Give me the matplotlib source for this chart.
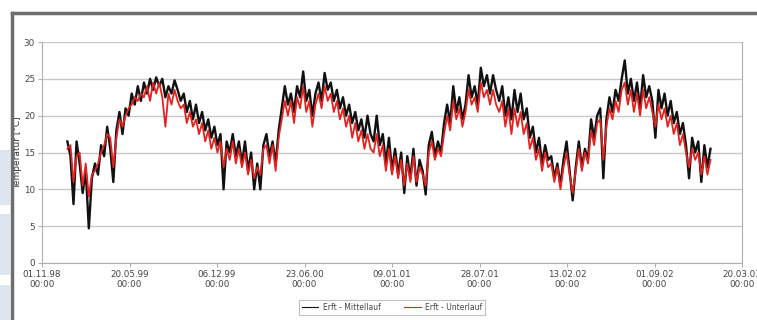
import matplotlib
matplotlib.use("Agg")
import matplotlib.pyplot as plt
import matplotlib.dates as mdates
from matplotlib.lines import Line2D
from matplotlib.patches import Rectangle
import numpy as np
import pandas as pd

# Wochenwerte (Start Ende Dez. 1998)
start = "1998-12-29"

mittellauf = [16.5, 14.5, 8.0, 16.5, 13.5, 9.5, 12.5, 4.7, 11.5, 13.5,
              12.0, 16.0, 14.5, 18.5, 15.5, 11.0, 18.0, 20.5, 17.5, 21.0,
              20.0, 23.0, 21.5, 24.0, 22.0, 24.5, 23.0, 25.0, 23.5, 25.2,
              24.0, 25.0, 22.5, 24.0, 23.0, 24.8, 23.5, 22.0, 23.0, 20.5,
              22.0, 19.5, 21.5, 19.0, 20.5, 18.0, 19.5, 17.0, 18.5, 16.0,
              17.5, 10.0, 16.5, 15.0, 17.5, 14.5, 16.5, 13.5, 16.5, 12.5,
              15.0, 10.0, 13.5, 10.0, 16.0, 17.5, 14.5, 16.5, 13.5, 18.0,
              21.0, 24.0, 21.5, 23.0, 20.5, 24.0, 22.5, 26.0, 22.0, 23.5,
              20.0, 23.0, 24.5, 22.0, 25.8, 23.5, 24.5, 22.0, 23.5, 21.0,
              22.5, 20.0, 21.5, 19.0, 20.5, 18.0, 19.5, 17.0, 20.0, 17.5,
              16.5, 20.0, 16.0, 17.5, 13.5, 17.0, 12.5, 15.5, 12.0, 15.0,
              9.5, 14.5, 11.5, 15.5, 10.5, 14.0, 12.5, 9.3, 16.0, 17.8,
              14.5, 16.5, 15.0, 19.0, 21.5, 19.0, 24.0, 20.5, 22.5, 19.5,
              21.5, 25.5, 22.5, 24.0, 21.5, 26.5, 24.0, 25.5, 23.0, 25.5,
              23.5, 22.0, 24.0, 20.0, 22.5, 19.5, 23.5, 20.5, 23.0, 19.5,
              21.0, 17.0, 18.5, 15.0, 17.0, 13.5, 16.0, 14.0, 14.5, 11.5,
              13.5, 10.5, 14.0, 16.5, 12.5, 8.5, 13.0, 16.5, 13.0, 15.5,
              14.0, 19.5, 17.0, 20.0, 21.0, 11.5, 19.5, 22.5, 20.5, 23.5,
              22.0, 25.0, 27.5, 23.0, 25.0, 22.0, 24.5, 21.0, 25.5, 22.5,
              24.0, 22.0, 17.0, 23.5, 21.0, 23.0, 20.0, 22.0, 19.0, 20.5,
              17.5, 19.0, 16.0, 11.5, 17.0, 15.0, 16.5, 11.0, 16.0, 13.0,
              15.5]

unterlauf = [15.5, 16.0, 11.0, 14.5, 15.0, 10.5, 13.5, 9.0, 12.0, 12.5,
             13.5, 15.0, 16.0, 17.5, 17.0, 13.0, 17.0, 19.5, 18.5, 20.0,
             21.0, 21.5, 22.5, 22.0, 23.0, 22.5, 24.0, 22.0, 24.5, 23.0,
             24.5, 22.5, 18.5, 23.0, 21.5, 23.5, 22.0, 21.0, 21.5, 19.0,
             20.5, 18.5, 19.5, 17.5, 19.0, 16.5, 18.0, 15.5, 17.0, 15.0,
             16.5, 13.0, 15.5, 14.0, 16.5, 13.5, 15.5, 13.0, 15.0, 12.0,
             14.0, 11.5, 13.0, 12.0, 15.5, 16.0, 13.5, 16.0, 12.5, 17.0,
             19.5, 22.0, 20.0, 22.0, 19.0, 22.5, 21.0, 24.0, 20.5, 22.0,
             18.5, 21.5, 23.0, 21.0, 24.0, 22.0, 23.0, 20.5, 22.0, 19.5,
             21.0, 18.5, 20.0, 17.0, 19.0, 16.5, 18.0, 15.5, 17.5, 15.5,
             15.0, 17.5, 14.5, 16.0, 12.5, 15.5, 12.0, 14.5, 11.5, 14.0,
             10.5, 13.5, 11.0, 14.5, 11.0, 13.0, 12.0, 10.5, 15.0, 16.5,
             14.0, 15.5, 14.5, 17.5, 20.0, 18.0, 22.0, 19.5, 21.0, 18.5,
             20.5, 23.5, 21.5, 22.5, 20.5, 24.5, 22.5, 23.5, 21.5, 23.5,
             21.5, 20.5, 22.0, 18.5, 21.0, 17.5, 21.0, 18.5, 20.5, 17.5,
             19.0, 15.5, 17.0, 14.0, 15.5, 12.5, 15.0, 13.0, 13.5, 11.0,
             13.0, 10.0, 13.0, 15.0, 12.0, 9.5, 12.5, 15.5, 12.5, 15.0,
             13.5, 18.0, 16.0, 19.0, 19.5, 14.0, 18.5, 21.0, 19.5, 22.0,
             20.5, 23.5, 24.5, 21.5, 23.5, 20.5, 23.0, 20.0, 23.5, 21.0,
             22.5, 20.5, 18.5, 21.5, 19.5, 21.0, 18.5, 20.0, 17.5, 19.0,
             16.0, 17.5, 15.0, 13.0, 15.5, 14.0, 15.0, 12.0, 14.5, 12.0,
             14.0]

tick_dates = pd.date_range("1998-11-01", periods=9, freq="200D")
legend_labels = ["Erft - Mittellauf", "Erft - Unterlauf"]

n = min(len(mittellauf), len(unterlauf))
dates = pd.date_range(start, periods=n, freq="7D")

fig = plt.figure(figsize=(7.57, 3.2), dpi=100)
fig.patch.set_facecolor("white")

# Rahmen vom Screenshot
for y0, y1 in [(0.36, 0.53), (0.14, 0.33), (0.0, 0.11)]:
    fig.add_artist(Rectangle((0, y0), 10 / 757, y1 - y0, transform=fig.transFigure,
                             facecolor="#dde6ee", edgecolor="none"))
fig.add_artist(Line2D([12 / 757, 1], [1 - 13 / 320] * 2, transform=fig.transFigure,
                      color="#6e6e6e", lw=2.5))
fig.add_artist(Line2D([12 / 757] * 2, [0, 1 - 13 / 320], transform=fig.transFigure,
                      color="#6e6e6e", lw=2.5))

ax = fig.add_axes([42 / 757, 57 / 320, 700 / 757, 221 / 320])
ax.plot(dates, mittellauf[:n], color="#111111", lw=1.7, label=legend_labels[0])
ax.plot(dates, unterlauf[:n], color="#e2231f", lw=1.3, label=legend_labels[1])

ax.set_ylim(0, 30)
ax.set_xlim(tick_dates[0], tick_dates[-1])
ax.set_yticks(np.arange(0, 31, 5))
ax.set_xticks(tick_dates)
ax.xaxis.set_major_formatter(mdates.DateFormatter("%d.%m.%y\n%H:%M"))
ax.grid(axis="y", color="#c8c8c8", lw=1)
ax.set_axisbelow(True)
for s in ["left", "bottom", "right"]:
    ax.spines[s].set_color("#b0b0b0")
ax.spines["top"].set_visible(False)
ax.tick_params(labelsize=6.3, colors="#444444", length=3, width=0.8, pad=2)
ax.tick_params(axis="x", color="#b0b0b0")
ax.tick_params(axis="y", color="#b0b0b0")
ax.set_ylabel("Temperatur [°C]", fontsize=6.5, color="#333333", labelpad=1)

leg = ax.legend(loc="center", bbox_to_anchor=(0.5, -0.2), ncol=2, fontsize=5.5,
                frameon=True, fancybox=False, handlelength=2.2, columnspacing=3,
                borderpad=0.4, handletextpad=0.6)
leg.get_frame().set_edgecolor("#b0b0b0")
leg.get_frame().set_linewidth(0.8)
for t in leg.get_texts():
    t.set_color("#444444")
for h in leg.get_lines():
    h.set_linewidth(0.8)

fig.savefig("out.png", dpi=100)
